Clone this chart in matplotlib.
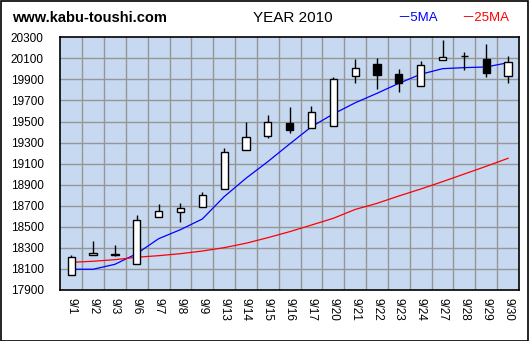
import matplotlib
matplotlib.use('Agg')
import matplotlib.pyplot as plt
from matplotlib.patches import Rectangle

# daily candles, september 2010
dates = ['9/1', '9/2', '9/3', '9/6', '9/7', '9/8', '9/9', '9/13', '9/14', '9/15',
         '9/16', '9/17', '9/20', '9/21', '9/22', '9/23', '9/24', '9/27', '9/28',
         '9/29', '9/30']
opens = [18040, 18230, 18235, 18144, 18590, 18637, 18685, 18855, 19225, 19358,
         19484, 19443, 19453, 19937, 20044, 19949, 19842, 20088, 20120, 20091, 19937]
closes = [18210, 18248, 18240, 18561, 18647, 18678, 18798, 19206, 19349, 19500,
          19424, 19595, 19908, 20006, 19943, 19870, 20041, 20117, 20122, 19961, 20069]
highs = [18232, 18365, 18327, 18611, 18713, 18722, 18827, 19244, 19494, 19560,
         19636, 19645, 19927, 20091, 20107, 19996, 20072, 20272, 20158, 20234, 20120]
lows = [18040, 18230, 18226, 18144, 18590, 18548, 18685, 18855, 19225, 19345,
        19392, 19443, 19453, 19870, 19810, 19781, 19842, 20088, 19994, 19923, 19870]
ma5 = [18097, 18097, 18144, 18245, 18387, 18473, 18574, 18786, 18961, 19119,
       19287, 19451, 19572, 19678, 19768, 19863, 19949, 20002, 20012, 20018, 20059]
ma25 = [18163, 18173, 18188, 18211, 18226, 18245, 18270, 18302, 18344, 18397,
        18454, 18517, 18581, 18665, 18723, 18793, 18859, 18929, 19002, 19075, 19151]
yticks = list(range(17900, 20301, 200))

plt.rcParams['font.family'] = ['Liberation Sans', 'Noto Sans CJK JP', 'DejaVu Sans']

W, H = 530, 341
fig = plt.figure(figsize=(W / 100, H / 100), dpi=100)
fig.patch.set_facecolor('white')

# outer frame
fig.patches.append(Rectangle((0.5 / W, 0.5 / H), 527.5 / W, 339.5 / H,
                             transform=fig.transFigure, fill=False,
                             edgecolor='black', linewidth=1.2))

ax = fig.add_axes([60.3 / W, (H - 290) / H, (519 - 60.3) / W, (290 - 37.3) / H])
ax.set_facecolor('#c6d9f0')
n = len(dates)
x = list(range(n))
ax.set_xlim(-0.5, n - 0.5)
ax.set_ylim(17900, 20300)

# grid
for b in range(1, n):
    ax.axvline(b - 0.5, color='#969696', linewidth=1, zorder=1)
for yv in yticks[1:-1]:
    ax.axhline(yv, color='#969696', linewidth=1, zorder=1)

# moving averages
ax.plot(x, ma5, color='blue', linewidth=0.9, zorder=2)
ax.plot(x, ma25, color='red', linewidth=0.9, zorder=2)

# candles
ax.vlines(x, lows, highs, color='black', linewidth=1, zorder=3)
for i in x:
    o, c = opens[i], closes[i]
    bot = min(o, c)
    h = max(abs(c - o), 6)
    fc = 'white' if c >= o else 'black'
    ax.bar(i, h, bottom=bot, width=0.33, color=fc, edgecolor='black',
           linewidth=1, zorder=4)

ax.set_yticks(yticks)
ax.set_yticklabels([str(v) for v in yticks], fontsize=8.5)
ax.set_xticks(x)
ax.set_xticklabels(dates, rotation=-90, fontsize=8.5, va='top', ha='center')
ax.tick_params(axis='both', length=0, pad=6)
ax.tick_params(axis='y', pad=12)
for sp in ax.spines.values():
    sp.set_linewidth(1.2)
    sp.set_color('black')

# header texts
fig.text(12.5 / W, 1 - 18 / H, 'www.kabu-toushi.com', fontsize=10.5,
         fontweight='bold', va='center', ha='left')
fig.text(292.6 / W, 1 - 18 / H, 'YEAR 2010', fontsize=11, va='center', ha='center')
fig.text(397 / W, 1 - 18 / H, '－5MA', fontsize=9.5, color='blue', va='center', ha='left')
fig.text(461 / W, 1 - 18 / H, '－25MA', fontsize=9.5, color='red', va='center', ha='left')

fig.savefig('out.png', dpi=100)
